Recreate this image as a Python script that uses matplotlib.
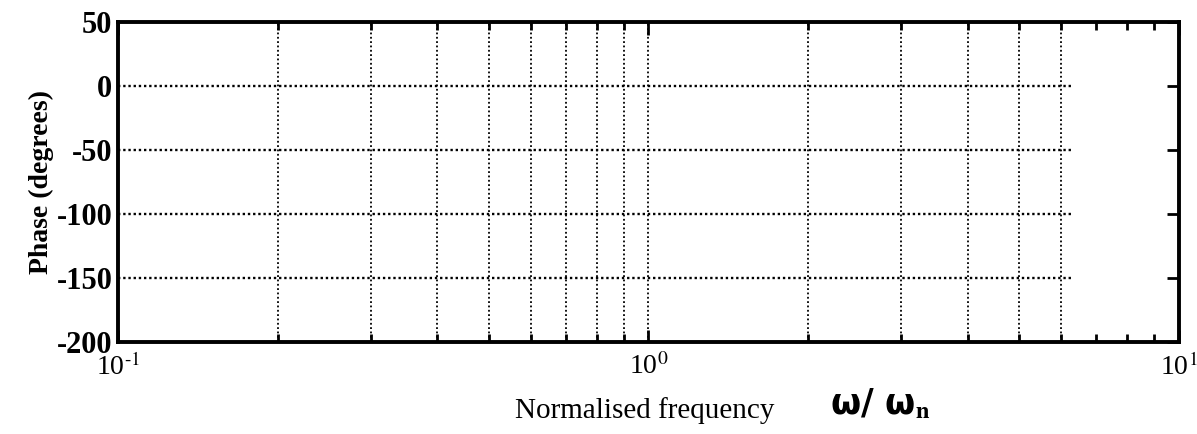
import numpy as np
import matplotlib.pyplot as plt
from matplotlib.ticker import FixedLocator, NullFormatter

# axis ranges and tick values
x_limits = [0.1, 10]
y_limits = [-200, 50]
y_ticks = [-200, -150, -100, -50, 0, 50]
x_major = [0.1, 1, 10]
x_labels = [r"10$^{\text{-}1}$", "10$^{0}$", "10$^{1}$"]
x_minor = [0.2, 0.3, 0.4, 0.5, 0.6, 0.7, 0.8, 0.9, 2, 3, 4, 5, 6, 7, 8, 9]
# grid only printed up to about 6 on the scanned page
grid_x = [0.2, 0.3, 0.4, 0.5, 0.6, 0.7, 0.8, 0.9, 1, 2, 3, 4, 5, 6]
grid_y = [-150, -100, -50, 0]
grid_end = 6.3

plt.rcParams['font.family'] = ['Liberation Serif', 'DejaVu Serif']
plt.rcParams['mathtext.fontset'] = 'stix'
plt.rcParams['axes.unicode_minus'] = False

fig = plt.figure(figsize=(11.97, 4.34), dpi=100)
ax = fig.add_axes([0.0986, 0.212, 0.886, 0.737])

ax.set_xscale('log')
ax.set_xlim(x_limits)
ax.set_ylim(y_limits)

# dotted grid, drawn by hand so it stops where the scan stops
ax.hlines(grid_y, x_limits[0], grid_end, colors='black', linestyles=(0, (1, 1.2)), linewidth=1.7)
ax.vlines(grid_x, y_limits[0], y_limits[1], colors='black', linestyles=(0, (1, 1.4)), linewidth=1.3)

ax.xaxis.set_major_locator(FixedLocator(x_major))
ax.xaxis.set_minor_locator(FixedLocator(x_minor))
ax.xaxis.set_minor_formatter(NullFormatter())
ax.set_xticklabels(x_labels)
ax.set_yticks(y_ticks)

ax.tick_params(axis='both', which='both', direction='in', top=True, right=True,
               width=2, labelsize=20)
ax.tick_params(axis='y', labelsize=22)
ax.tick_params(axis='both', which='major', length=9)
ax.tick_params(axis='y', which='major', left=False)
ax.tick_params(axis='x', which='minor', length=6)
ax.tick_params(axis='y', pad=4)
ax.tick_params(axis='x', pad=8)
for lab in ax.get_yticklabels():
    lab.set_fontweight('bold')

for sp in ax.spines.values():
    sp.set_linewidth(2.8)

ax.set_ylabel("Phase (degrees)", fontsize=20, fontweight='bold', labelpad=2)
fig.text(0.43, 0.038, "Normalised frequency", fontsize=21, ha='left', va='baseline')
fig.text(0.693, 0.045, r"ω/ ω$_{\mathbf{n}}$", fontsize=25, fontweight='bold',
         ha='left', va='baseline', family=['DejaVu Sans'])

fig.savefig("out.png", dpi=100)
